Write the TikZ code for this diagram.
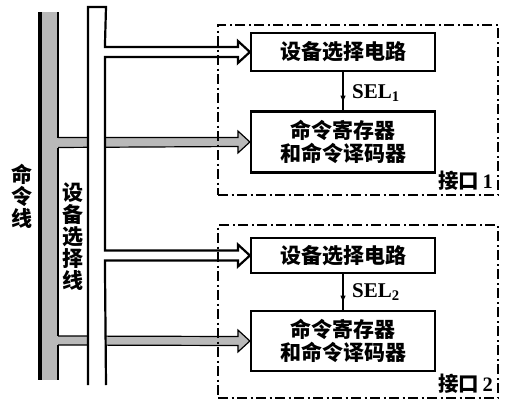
\documentclass[tikz,border=0pt]{standalone}
\usepackage{fontspec}
\setmainfont{Liberation Serif}
\newfontfamily\cjk{Noto Sans CJK SC}
\usetikzlibrary{calc,arrows.meta,decorations.markings}
\begin{document}
\begin{tikzpicture}[x=1pt,y=-1pt,
  blk/.style={draw,line width=2.2pt,fill=white,minimum width=184pt,inner sep=0pt,align=center,
    font=\cjk\bfseries\fontsize{21}{23.5}\selectfont},
  bus/.style={line width=2.2pt,line join=miter},
  grayarrow/.style={draw,line width=1.2pt,fill=gray!55,line join=miter},
  iface/.style={draw,line width=1.9pt,dash pattern=on 10pt off 3.5pt on 2pt off 3.5pt,minimum width=280pt,inner sep=0pt},
  vtext/.style={align=center,inner sep=0pt,font=\cjk\bfseries\fontsize{21}{22}\selectfont},
  sellabel/.style={anchor=west,inner sep=0pt,font=\bfseries\fontsize{21}{22}\selectfont},
  iflabel/.style={anchor=south east,inner sep=0pt,font=\bfseries\fontsize{20.5}{21}\selectfont},
  selarrow/.style={line width=1.5pt,postaction={decorate},
    decoration={markings,mark=at position 0.8 with {\arrow{Latex[length=7pt,width=5.5pt]}}}}]
\useasboundingbox (0,0) rectangle (520,418);
\fill[white] (0,0) rectangle (520,418);

% blocks
\node[blk,minimum height=38pt] (dev1) at (343,52) {设备选择电路};
\node[blk,minimum height=61pt] (reg1) at (343,142) {命令寄存器\\和命令译码器};
\node[blk,minimum height=35pt] (dev2) at (343,255.5) {设备选择电路};
\node[blk,minimum height=60pt] (reg2) at (343,341) {命令寄存器\\和命令译码器};

% gray arrows (command lines)
\draw[grayarrow] (55,137.5) -- ($(reg1.west)+(-12,-4.5)$) -- ($(reg1.west)+(-12,-11)$) -- (reg1.west)
  -- ($(reg1.west)+(-12,11)$) -- ($(reg1.west)+(-12,4.5)$) -- (55,147.5) -- cycle;
\draw[grayarrow] (55,336) -- ($(reg2.west)+(-12,-4.5)$) -- ($(reg2.west)+(-12,-11)$) -- (reg2.west)
  -- ($(reg2.west)+(-12,11)$) -- ($(reg2.west)+(-12,4.5)$) -- (55,345) -- cycle;

% command bus
\fill[gray!55] (40,12) rectangle (58,380);
\draw[line width=3.5pt] (40,12) -- (40,380);
\draw[bus] (58,12) -- (58,137.5) (58,147.5) -- (58,336) (58,345) -- (58,380);

% device select bus with hollow arrows
\fill[white] (88,7) rectangle (106,385);
\draw[bus] (88,385) -- (88,7) -- (106,7)
  -- ($(dev1.west)+(-145,-5)$) -- ($(dev1.west)+(-12,-5)$) -- ($(dev1.west)+(-12,-11)$) -- (dev1.west)
  -- ($(dev1.west)+(-12,11)$) -- ($(dev1.west)+(-12,5)$) -- ($(dev1.west)+(-145,5)$)
  -- ($(dev2.west)+(-145,-5)$) -- ($(dev2.west)+(-12,-5)$) -- ($(dev2.west)+(-12,-11)$) -- (dev2.west)
  -- ($(dev2.west)+(-12,11)$) -- ($(dev2.west)+(-12,5)$) -- ($(dev2.west)+(-145,5)$)
  -- (106,385);

% labels of buses
\node[vtext] (cmdlabel) at (22,196) {命\\令\\线};
\node[vtext] (sellabel) at (73,237) {设\\备\\选\\择\\线};

% SEL arrows
\draw[selarrow] (dev1.south) -- (reg1.north);
\draw[selarrow] (dev2.south) -- (reg2.north);
\node[sellabel] (sel1) at (352,93) {SEL\textsubscript{1}};
\node[sellabel] (sel2) at (352,292) {SEL\textsubscript{2}};

% interfaces
\node[iface,minimum height=170pt] (if1) at (358,110) {};
\node[iface,minimum height=173pt] (if2) at (358,311.5) {};
\node[iflabel] (if1l) at ($(if1.south east)+(-6,-5)$) {{\cjk 接口}\,1};
\node[iflabel] (if2l) at ($(if2.south east)+(-6,-5)$) {{\cjk 接口}\,2};
\end{tikzpicture}
\end{document}
